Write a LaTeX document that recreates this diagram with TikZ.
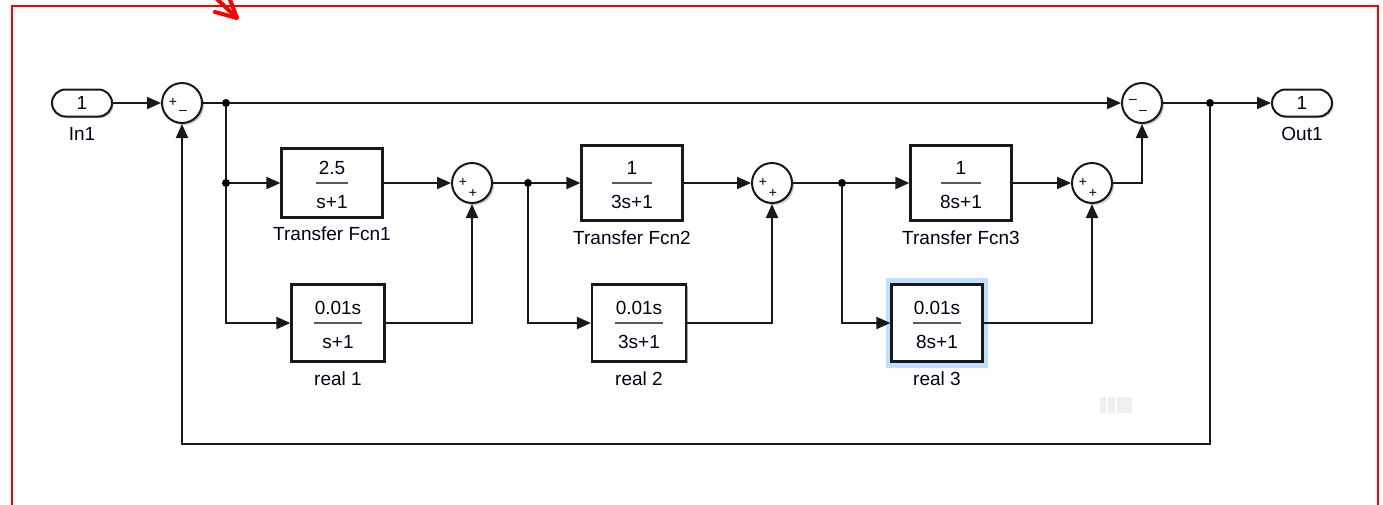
\documentclass[tikz,border=0pt]{standalone}
\usepackage{fontspec}
\setmainfont{Liberation Sans}
\usetikzlibrary{arrows.meta,shadows}
\newcommand\mkblock[8]{%
  \node[blk, minimum width=#4pt, minimum height=#5pt] (#1) at (#2,#3) {};
  \node[anchor=base, txt] (#1num) at (#2,#3-9) {#6};
  \node[anchor=base, txt] (#1den) at (#2,#3+25.5) {#7};
  \draw[fracl] ([xshift=-#8pt]#1.center) -- ([xshift=#8pt]#1.center);
}
\begin{document}
\begin{tikzpicture}[x=1pt,y=-1pt,
  txt/.style={font=\fontsize{19}{22}\selectfont, text=black!90!blue, inner sep=0pt},
  wire/.style={line width=2pt, draw=black!90},
  arr/.style={wire, -{Triangle[length=14pt,width=12pt]}},
  blk/.style={rectangle, draw=black!90, line width=2.2pt, fill=white, inner sep=0pt,
    drop shadow={shadow xshift=1.5pt, shadow yshift=-1.5pt, fill=gray, opacity=0.7}},
  sumc/.style={circle, draw=black!90, line width=2pt, fill=white, minimum size=40pt, inner sep=0pt,
    drop shadow={shadow xshift=2pt, shadow yshift=-2pt, fill=gray, opacity=0.45}},
  port/.style={rectangle, rounded corners=13.5pt, draw=black!90, line width=2pt, fill=white,
    minimum width=60pt, minimum height=27pt, inner sep=0pt, txt,
    drop shadow={shadow xshift=1.5pt, shadow yshift=-1.5pt, fill=gray, opacity=0.5}},
  jdot/.style={circle, fill=black, inner sep=0pt, minimum size=8pt},
  sgn/.style={font=\fontsize{14}{14}\selectfont, text=black, inner sep=0pt},
  fracl/.style={draw=black!65, line width=1.6pt},
  lbl/.style={txt, anchor=base},
  frame/.style={draw=red, line width=2.6pt},
]
\useasboundingbox (0,0) rectangle (1383,504);

% red frame and red arrow
\draw[frame] (12,510) -- (12,6) -- (1378,6) -- (1378,510);
\begin{scope}
  \clip (0,0) rectangle (1383,504);
  \draw[red, line width=4pt, line cap=round, line join=round] (215,12) -- (237,18) -- (229,-3);
  \draw[red, line width=4pt] (237,18) -- (200,-17);
\end{scope}

% faint marks
\fill[gray!12] (1100,397) rectangle (1106,413);
\fill[gray!12] (1108,397) rectangle (1115,413);
\fill[gray!12] (1117,397) rectangle (1132,413);

% ports
\node[port] (in1) at (82,103) {1};
\node[lbl] (in1l) at (82,140) {In1};
\node[port] (out1) at (1302,103) {1};
\node[lbl] (out1l) at (1302,140) {Out1};

% sums
\node[sumc] (s1) at (182,103) {};
\node[sgn] (s1a) at (173,102) {+};
\node[sgn] (s1b) at (183,112) {–};
\node[sumc] (s2) at (472,183) {};
\node[sgn] (s2a) at (463,182) {+};
\node[sgn] (s2b) at (473,193) {+};
\node[sumc] (s3) at (772,183) {};
\node[sgn] (s3a) at (763,182) {+};
\node[sgn] (s3b) at (773,193) {+};
\node[sumc] (s5) at (1092,183) {};
\node[sgn] (s5a) at (1083,182) {+};
\node[sgn] (s5b) at (1093,193) {+};
\node[sumc] (s4) at (1142,103) {};
\node[sgn] (s4a) at (1133,101) {–};
\node[sgn] (s4b) at (1143,112) {–};

% highlight of real 3
\fill[blue!50!cyan!25] (886,278) rectangle (988,368);

% blocks
\mkblock{tf1}{332}{183}{101}{69}{2.5}{s+1}{16}
\mkblock{tf2}{632}{183}{101}{75}{1}{3s+1}{20}
\mkblock{tf3}{961}{183}{101}{75}{1}{8s+1}{20}
\mkblock{r1}{338}{323}{93}{77}{0.01s}{s+1}{24}
\mkblock{r2}{639}{323}{94}{77}{0.01s}{3s+1}{24}
\mkblock{r3}{937}{323}{91}{77}{0.01s}{8s+1}{24}

\node[lbl] (tf1l) at (332,240) {Transfer Fcn1};
\node[lbl] (tf2l) at (632,244) {Transfer Fcn2};
\node[lbl] (tf3l) at (961,244) {Transfer Fcn3};
\node[lbl] (r1l) at (338,385) {real 1};
\node[lbl] (r2l) at (639,385) {real 2};
\node[lbl] (r3l) at (937,385) {real 3};

% junctions
\node[jdot] (d1) at (226,103) {};
\node[jdot] (d1b) at (226,183) {};
\node[jdot] (d2) at (528,183) {};
\node[jdot] (d3) at (842,183) {};
\node[jdot] (d4) at (1210,103) {};
\coordinate (fb) at (1210,444);

% wires
\draw[arr] (in1) -- (s1);
\draw[wire] (s1) -- (d1);
\draw[arr] (d1) -- (s4);
\draw[wire] (d1) -- (d1b);
\draw[arr] (d1b) -- (tf1);
\draw[arr] (d1b) |- (r1);
\draw[arr] (tf1) -- (s2);
\draw[arr] (r1) -| (s2);
\draw[wire] (s2) -- (d2);
\draw[arr] (d2) -- (tf2);
\draw[arr] (d2) |- (r2);
\draw[arr] (tf2) -- (s3);
\draw[arr] (r2) -| (s3);
\draw[wire] (s3) -- (d3);
\draw[arr] (d3) -- (tf3);
\draw[arr] (d3) |- (r3);
\draw[arr] (tf3) -- (s5);
\draw[arr] (r3) -| (s5);
\draw[arr] (s5) -| (s4);
\draw[wire] (s4) -- (d4);
\draw[arr] (d4) -- (out1);
\draw[arr] (d4) -- (fb) -| (s1);
\end{tikzpicture}
\end{document}
